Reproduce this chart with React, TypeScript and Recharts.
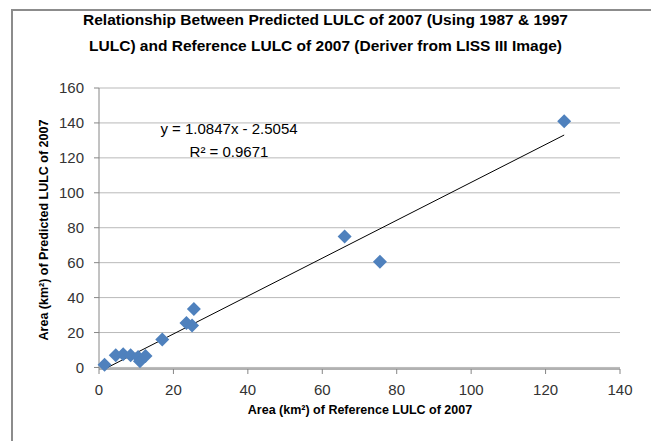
import { ScatterChart, Scatter, XAxis, YAxis, CartesianGrid } from 'recharts'

// reference LULC 2007 area (km²) vs predicted LULC 2007 area (km²)
const referenceArea = [1.5, 4.5, 6.5, 8.5, 10.5, 11, 12.5, 17, 23.5, 25, 25.5, 66, 75.5, 125]
const predictedArea = [1.5, 7, 7.5, 7, 6, 3.5, 6.5, 16, 25.5, 24, 33.5, 75, 60.5, 141]

const xTicks = [0, 20, 40, 60, 80, 100, 120, 140]
const yTicks = [0, 20, 40, 60, 80, 100, 120, 140, 160]

// linear trendline as printed on the chart
const slope = 1.0847
const intercept = -2.5054

const points = referenceArea.map((x, i) => ({ x, y: predictedArea[i] }))
const trendX = [Math.min(...referenceArea), Math.max(...referenceArea)]
const trend = trendX.map((x) => ({ x, y: slope * x + intercept }))

const font = '"Liberation Sans", Arial, sans-serif'
const axisGray = '#868686'

function Diamond(props: any) {
  const { cx, cy } = props
  if (cx == null || cy == null) return <g />
  const r = 7
  return (
    <polygon
      points={`${cx},${cy - r} ${cx + r},${cy} ${cx},${cy + r} ${cx - r},${cy}`}
      fill="#4f81bd"
    />
  )
}

const noDot = () => <g />

export default function App() {
  return (
    <div style={{ position: 'absolute', left: 0, top: 0, width: 651, height: 441, background: '#fff', overflow: 'hidden', fontFamily: font }}>
      <div style={{
        position: 'absolute', left: 11, top: 9, width: 700, height: 500,
        borderTop: '2px solid #8c8c8c', borderLeft: '2px solid #8c8c8c',
      }} />
      <div style={{
        position: 'absolute', left: 0, width: 651, top: 7, textAlign: 'center',
        fontSize: 15.5, fontWeight: 700, lineHeight: '26px', color: '#000',
      }}>
        Relationship Between Predicted LULC of 2007 (Using 1987 &amp; 1997<br />
        LULC) and Reference LULC of 2007 (Deriver from LISS III Image)
      </div>

      <ScatterChart width={651} height={441} margin={{ top: 88, right: 31, bottom: 42, left: 60 }}>
        <CartesianGrid vertical={false} stroke="#b9b9b9" />
        <XAxis
          type="number" dataKey="x" domain={[0, 140]} ticks={xTicks} interval={0}
          height={30} tickSize={5} tickMargin={10}
          axisLine={{ stroke: axisGray }} tickLine={{ stroke: axisGray }}
          tick={{ fontSize: 15, fill: '#333', fontFamily: font }}
        />
        <YAxis
          type="number" dataKey="y" domain={[0, 160]} ticks={yTicks} interval={0}
          width={39} tickSize={5} tickMargin={10}
          axisLine={{ stroke: axisGray }} tickLine={{ stroke: axisGray }}
          tick={{ fontSize: 15, fill: '#333', fontFamily: font }}
        />
        <Scatter data={trend} line={{ stroke: '#000', strokeWidth: 1 }} shape={noDot} isAnimationActive={false} />
        <Scatter data={points} shape={Diamond} isAnimationActive={false} />
      </ScatterChart>

      <div style={{
        position: 'absolute', left: 129, width: 200, top: 117, textAlign: 'center',
        fontSize: 15, lineHeight: '23px', color: '#000',
      }}>
        y = 1.0847x - 2.5054<br />
        R² = 0.9671
      </div>

      <div style={{
        position: 'absolute', left: 160, width: 400, top: 403, textAlign: 'center',
        fontSize: 12.5, fontWeight: 700, color: '#000',
      }}>
        Area (km²) of Reference LULC of 2007
      </div>
      <div style={{
        position: 'absolute', left: 44 - 150, width: 300, top: 223, textAlign: 'center',
        fontSize: 12.5, fontWeight: 700, color: '#000', transform: 'rotate(-90deg)',
      }}>
        Area (km²) of Predicted LULC of 2007
      </div>
    </div>
  )
}
